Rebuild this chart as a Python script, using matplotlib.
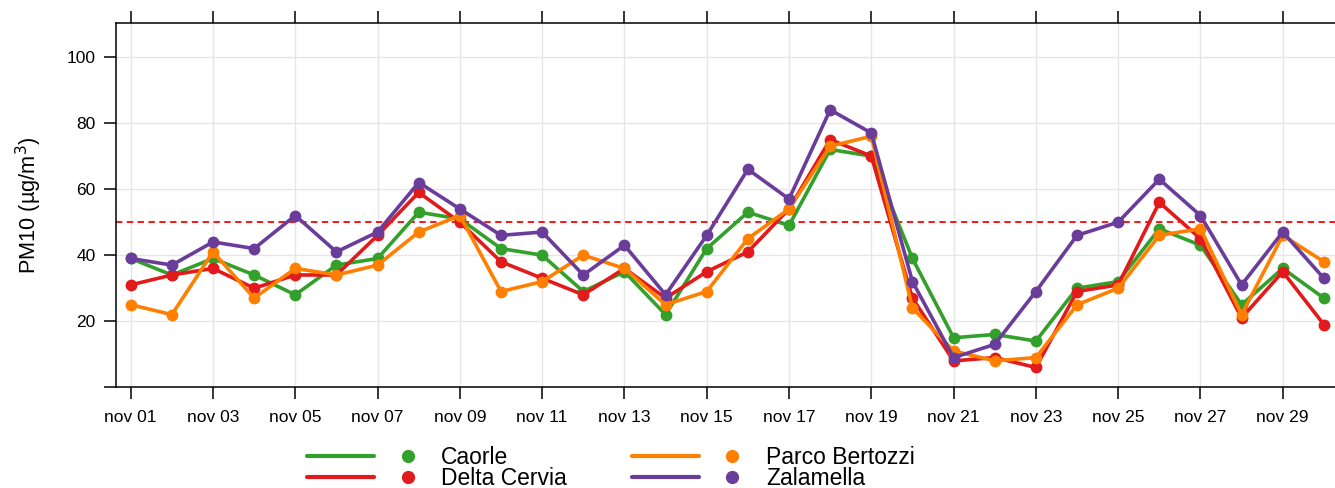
import matplotlib
matplotlib.use("Agg")
import matplotlib.pyplot as plt
from matplotlib.lines import Line2D
from matplotlib.legend_handler import HandlerTuple

plt.rcParams['font.family'] = ['Liberation Sans', 'DejaVu Sans']

days = list(range(1, 31))
caorle = [39, 34, 39, 34, 28, 37, 39, 53, 51, 42, 40, 29, 35, 22, 42, 53, 49, 72, 70, 39,
          15, 16, 14, 30, 32, 48, 43, 25, 36, 27]
delta_cervia = [31, 34, 36, 30, 34, 34, 46, 59, 50, 38, 33, 28, 36, 27, 35, 41, 54, 75, 70, 27,
                8, 9, 6, 29, 31, 56, 45, 21, 35, 19]
parco_bertozzi = [25, 22, 41, 27, 36, 34, 37, 47, 52, 29, 32, 40, 36, 25, 29, 45, 54, 73, 76, 24,
                  11, 8, 9, 25, 30, 46, 48, 22, 46, 38]
zalamella = [39, 37, 44, 42, 52, 41, 47, 62, 54, 46, 47, 34, 43, 28, 46, 66, 57, 84, 77, 32,
             9, 13, 29, 46, 50, 63, 52, 31, 47, 33]

series_names = ["Caorle", "Delta Cervia", "Parco Bertozzi", "Zalamella"]
series_values = [caorle, delta_cervia, parco_bertozzi, zalamella]
colors = ["#33A02C", "#E31A1C", "#FF7F00", "#6A3D9A"]

tick_days = list(range(1, 30, 2))
tick_labels = ["nov %02d" % d for d in tick_days]
y_ticks = [0, 20, 40, 60, 80, 100]
y_tick_labels = ["", "20", "40", "60", "80", "100"]
limit_value = 50

fig = plt.figure(figsize=(13.35, 4.88), dpi=100)
ax = fig.add_axes([115.7 / 1335, 1 - 387.3 / 488, 1 - 115.7 / 1335, (387.3 - 23.3) / 488])

for name, vals, c in zip(series_names, series_values, colors):
    ax.plot(days, vals, color=c, lw=2.6, marker='o', ms=7.5, mec=c, mfc=c,
            solid_joinstyle='round', solid_capstyle='round', zorder=3)

ax.axhline(limit_value, color='#FF0000', lw=1.3, ls=(0, (3.5, 2.5)), zorder=2)

ax.set_xlim(0.635, 30.27)
ax.set_ylim(0, 110.2)
ax.set_xticks(tick_days)
ax.set_xticklabels(tick_labels)
ax.set_yticks(y_ticks)
ax.set_yticklabels(y_tick_labels)
ax.grid(True, color='#E6E6E6', lw=1.0, zorder=0)
ax.set_axisbelow(True)

for s in ['left', 'bottom', 'top']:
    ax.spines[s].set_linewidth(1.1)
    ax.spines[s].set_color('black')
ax.spines['right'].set_visible(False)

ax.tick_params(axis='x', which='both', direction='out', length=8.5, width=1.1,
               top=True, labeltop=False, labelsize=12.5, pad=7.5)
ax.tick_params(axis='y', which='both', direction='out', length=8.5, width=1.1,
               right=False, labelsize=12.5, pad=6)

ax.set_ylabel("PM10 (µg/m$^3$)", fontsize=15.7, labelpad=16)

handles = []
for c in colors:
    ln = Line2D([], [], color=c, lw=3, solid_capstyle='round')
    mk = Line2D([], [], color=c, marker='o', ls='none', ms=8.5)
    handles.append((ln, mk))

leg = fig.legend(handles, series_names, ncol=2, loc='center',
                 bbox_to_anchor=(611 / 1335, 1 - 468 / 488),
                 handler_map={tuple: HandlerTuple(ndivide=None, pad=0.0)},
                 handlelength=5.85, handletextpad=0.0, columnspacing=2.83,
                 labelspacing=-0.05, frameon=False, fontsize=16.5)

fig.savefig("out.png", dpi=100)
